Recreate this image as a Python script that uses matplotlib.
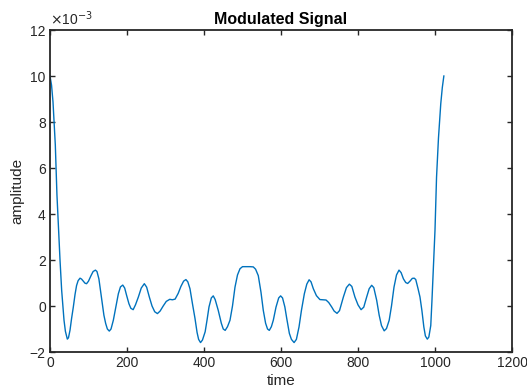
import matplotlib.pyplot as plt

plt.rcParams['font.family'] = ['Liberation Sans', 'DejaVu Sans']

# time samples and amplitude (in units of 1e-3)
time = [0, 4, 7.8, 13.8, 18, 23, 26, 30.3, 33.4, 36.4, 40, 45, 48, 52, 56, 60.6,
        65, 69, 73, 78, 82, 86.5, 91, 95, 100, 106.5, 112, 118, 122, 127, 131,
        136, 140, 144.6, 149, 154, 158.5, 164.5, 171, 177.5, 183, 189, 194, 199,
        205, 210, 216, 222, 229.5, 237, 245, 251, 258, 265, 272, 279, 286, 294,
        302, 311, 318, 325, 333, 340, 347, 353, 358, 363.6, 370, 376.6, 382, 386,
        391, 396, 403, 408, 413, 419, 424, 429, 437, 445, 450, 455, 461, 467.5,
        474, 480.5, 487, 493.5, 500, 510, 520, 528, 534, 541, 548, 554, 560, 565,
        569.6, 575, 580, 587, 594, 599, 604, 610, 615, 621.7, 627, 634, 640,
        646.8, 653, 660.6, 667, 673, 678, 684, 692, 701, 709, 717, 724, 731.6,
        738, 745.5, 752, 762, 770, 777.6, 784, 792, 800, 808, 815, 822.5, 829,
        835.5, 841, 848.5, 855, 861, 868, 874, 881, 887, 893.5, 900, 906.5, 912,
        918, 924, 929, 935, 941, 946, 950, 956, 961, 966, 971, 975, 980, 984,
        989, 992, 995.6, 1000, 1004, 1009, 1015, 1019, 1023]
amplitude = [10, 9.6, 8.87, 7.0, 4.85, 3.1, 2.0, 0.68, 0.0, -0.62, -1.1, -1.44,
             -1.38, -1.05, -0.55, -0.04, 0.5, 0.89, 1.1, 1.21, 1.17, 1.08, 0.99,
             0.97, 1.08, 1.32, 1.5, 1.56, 1.5, 1.18, 0.7, 0.1, -0.4, -0.76, -1.0,
             -1.09, -1.0, -0.62, -0.05, 0.53, 0.83, 0.91, 0.78, 0.46, 0.1, -0.1,
             -0.16, 0.05, 0.39, 0.78, 0.97, 0.82, 0.39, 0.0, -0.25, -0.33, -0.22,
             0.0, 0.2, 0.29, 0.27, 0.3, 0.55, 0.85, 1.08, 1.15, 1.05, 0.75, 0.1,
             -0.54, -1.15, -1.45, -1.59, -1.48, -1.12, -0.6, -0.04, 0.35, 0.44,
             0.28, -0.19, -0.75, -1.0, -1.06, -0.9, -0.62, 0.0, 0.82, 1.35, 1.62,
             1.71, 1.71, 1.71, 1.7, 1.6, 1.32, 0.6, -0.19, -0.75, -1.0, -1.06,
             -0.9, -0.62, -0.05, 0.35, 0.44, 0.35, -0.04, -0.55, -1.19, -1.45,
             -1.59, -1.45, -0.91, -0.2, 0.53, 0.95, 1.14, 1.05, 0.75, 0.45, 0.28,
             0.27, 0.26, 0.15, -0.04, -0.22, -0.32, -0.2, 0.39, 0.8, 0.95, 0.85,
             0.39, 0.05, -0.16, -0.05, 0.39, 0.75, 0.9, 0.8, 0.25, -0.4, -0.85,
             -1.08, -0.98, -0.62, 0.0, 0.82, 1.35, 1.56, 1.45, 1.18, 1.02, 0.98,
             1.08, 1.2, 1.21, 1.15, 0.75, 0.39, -0.2, -0.91, -1.3, -1.44, -1.35,
             -0.85, 0.2, 1.6, 3.3, 5.6, 7.3, 8.8, 9.5, 10]

xticks = [0, 200, 400, 600, 800, 1000, 1200]
yticks = [-2, 0, 2, 4, 6, 8, 10, 12]

axis_col = '#262626'

fig = plt.figure(figsize=(5.27, 3.92), dpi=100)
ax = fig.add_axes([50 / 527, 1 - 352 / 392, 462 / 527, 322 / 392])

ax.plot(time, amplitude, color='#0072BD', linewidth=1.0)

ax.set_xlim(0, 1200)
ax.set_ylim(-2, 12)
ax.set_xticks(xticks)
ax.set_yticks(yticks)
ax.tick_params(direction='in', length=3.5, width=1.0, colors=axis_col,
               labelsize=10, top=True, right=True, pad=3)
for sp in ax.spines.values():
    sp.set_linewidth(1.3)
    sp.set_color(axis_col)

ax.set_title('Modulated Signal', fontsize=11.5, fontweight='bold', pad=4)
ax.set_xlabel('time', fontsize=11, color=axis_col, labelpad=3)
ax.set_ylabel('amplitude', fontsize=11, color=axis_col, labelpad=4)
ax.text(0.0, 1.005, r'$\times$10$^{-3}$', transform=ax.transAxes, fontsize=10,
        color=axis_col, ha='left', va='bottom')

plt.savefig('out.png', dpi=100)
